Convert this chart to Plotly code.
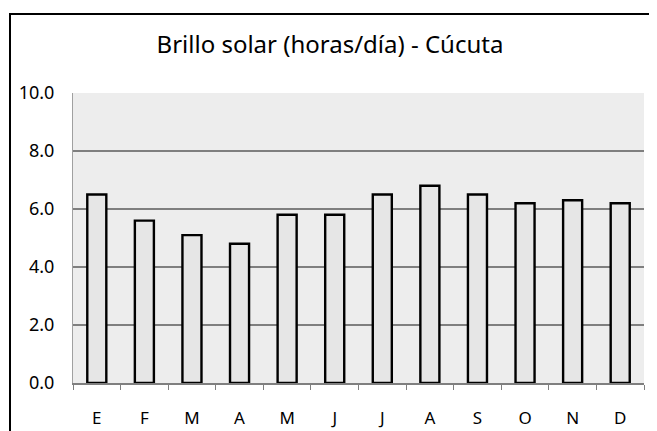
import plotly.graph_objects as go

meses = ["E", "F", "M", "A", "M ", "J", "J ", "A ", "S", "O", "N", "D"]
etiquetas = ["E", "F", "M", "A", "M", "J", "J", "A", "S", "O", "N", "D"]
brillo = [6.5, 5.6, 5.1, 4.8, 5.8, 5.8, 6.5, 6.8, 6.5, 6.2, 6.3, 6.2]
yticks = [0, 2, 4, 6, 8, 10]

# the page body has an 8px margin, so the figure is sized to fill the rest
W, H = 649, 423
L, R, T, B = 65, 13, 85, 48
pw, ph = W - L - R, H - T - B

fig = go.Figure()
fig.add_trace(go.Bar(
    x=meses, y=brillo,
    marker=dict(color="#e6e6e6", line=dict(color="#000000", width=2.4)),
    width=0.4,
))

fig.update_layout(
    width=W, height=H,
    margin=dict(l=L, r=R, t=T, b=B, autoexpand=False),
    paper_bgcolor="white",
    plot_bgcolor="#ededed",
    showlegend=False,
    font=dict(family="Noto Sans", color="#000000"),
    title=dict(text="Brillo solar (horas/día) - Cúcuta", x=(330 - 8) / W, xref="container",
               xanchor="center", y=1 - 37 / H, yref="container", yanchor="middle",
               font=dict(size=24, family="Noto Sans", color="#000000")),
    bargap=0.6,
)
fig.update_xaxes(
    type="category", tickmode="array", tickvals=meses, ticktext=etiquetas,
    tickson="boundaries", ticks="outside", ticklen=5, tickwidth=1.3, tickcolor="#7f7f7f",
    showline=True, linecolor="#7f7f7f", linewidth=1.5, automargin=False,
    showgrid=False, tickfont=dict(size=17), ticklabelstandoff=19,
)
fig.update_yaxes(
    range=[0, 10], tickmode="array", tickvals=yticks,
    ticktext=[f"{v:.1f}" for v in yticks], automargin=False,
    showgrid=True, gridcolor="#7f7f7f", gridwidth=1.5, zeroline=False,
    showline=True, linecolor="#a0a0a0", linewidth=1,
    ticks="", tickfont=dict(size=18), ticklabelstandoff=14,
)
# chart frame
fig.add_shape(type="rect", xref="paper", yref="paper",
              x0=(2 - L) / pw, x1=1.2, y0=-0.5, y1=(H - B - 6) / ph,
              line=dict(color="#000000", width=2), fillcolor="rgba(0,0,0,0)", layer="above")

fig.write_html("out.html")
